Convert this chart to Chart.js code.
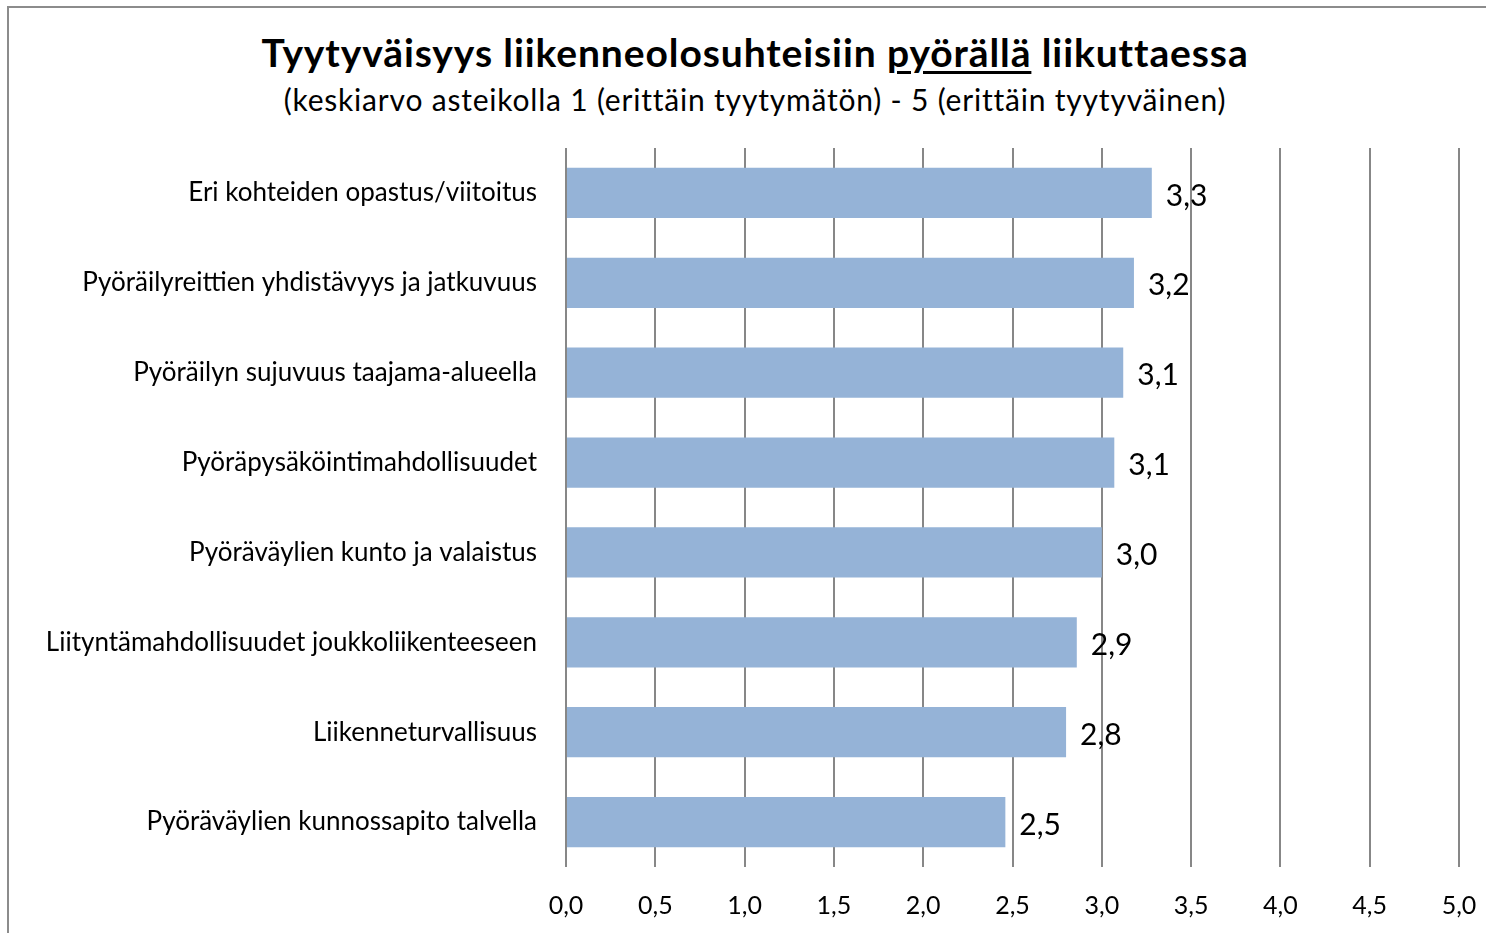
<!DOCTYPE html>
<html>
<head>
<meta charset="utf-8">
<script src="https://cdn.jsdelivr.net/npm/chart.js@4"></script>
<style>
  html, body { margin: 0; padding: 0; background: #fff; }
  #wrap { position: relative; width: 1486px; height: 933px; overflow: hidden; font-family: Lato, "Open Sans", sans-serif; }
  #frame { position: absolute; left: 7px; top: 6px; width: 1600px; height: 1200px; border-left: 2px solid #8c8c8c; border-top: 2px solid #8c8c8c; box-sizing: border-box; }
  #title { position: absolute; left: 0; width: 1510px; top: 30px; text-align: center; font-weight: bold; font-size: 39px; letter-spacing: 0.9px; color: #000; line-height: 44px; white-space: nowrap; }
  #subtitle { position: absolute; left: 0; width: 1510px; top: 82px; text-align: center; font-size: 30px; letter-spacing: 0.8px; color: #000; line-height: 34px; white-space: nowrap; }
  #title u { text-decoration-thickness: 3px; text-underline-offset: 4px; }
  canvas { position: absolute; left: 0; top: 0; }
</style>
</head>
<body>
<div id="wrap">
  <div id="frame"></div>
  <div id="title">Tyytyväisyys liikenneolosuhteisiin <u>pyörällä</u> liikuttaessa</div>
  <div id="subtitle">(keskiarvo asteikolla 1 (erittäin tyytymätön) - 5 (erittäin tyytyväinen)</div>
  <canvas id="c" width="1486" height="933"></canvas>
</div>
<script>
const categories = [
  "Eri kohteiden opastus/viitoitus",
  "Pyöräilyreittien yhdistävyys ja jatkuvuus",
  "Pyöräilyn sujuvuus taajama-alueella",
  "Pyöräpysäköintimahdollisuudet",
  "Pyöräväylien kunto ja valaistus",
  "Liityntämahdollisuudet joukkoliikenteeseen",
  "Liikenneturvallisuus",
  "Pyöräväylien kunnossapito talvella"
];
const values = [3.28, 3.18, 3.12, 3.07, 3.0, 2.86, 2.8, 2.46];
const xTickMin = 0;
const xTickMax = 5;
const xTickStep = 0.5;

const fmt = v => Number(v).toFixed(1).replace('.', ',');

const valueLabels = {
  id: 'valueLabels',
  afterDatasetsDraw(chart) {
    const ctx = chart.ctx;
    const meta = chart.getDatasetMeta(0);
    ctx.save();
    ctx.font = '30px Lato, "Open Sans", sans-serif';
    ctx.fillStyle = '#000';
    ctx.textAlign = 'left';
    ctx.textBaseline = 'middle';
    meta.data.forEach((el, i) => {
      ctx.fillText(fmt(chart.data.datasets[0].data[i]), el.x + 14, el.y + 3);
    });
    ctx.restore();
  }
};

new Chart(document.getElementById('c'), {
  type: 'bar',
  data: {
    labels: categories,
    datasets: [{
      data: values,
      backgroundColor: '#95B3D7',
      borderWidth: 0,
      barPercentage: 0.56,
      categoryPercentage: 1.0
    }]
  },
  options: {
    indexAxis: 'y',
    responsive: false,
    animation: false,
    devicePixelRatio: 1,
    layout: { padding: { top: 148, right: 27, bottom: 0, left: 0 } },
    plugins: { legend: { display: false }, tooltip: { enabled: false } },
    scales: {
      x: {
        min: xTickMin, max: xTickMax,
        afterFit(s) { s.height = 66; s.paddingRight = 0; s.paddingLeft = 0; },
        border: { display: false },
        grid: { color: '#878787', lineWidth: 2, drawTicks: false },
        ticks: {
          stepSize: xTickStep,
          padding: 24,
          color: '#000',
          font: { family: 'Lato, "Open Sans", sans-serif', size: 25 },
          callback: v => fmt(v)
        }
      },
      y: {
        afterFit(s) { s.width = 566; s.paddingTop = 0; s.paddingBottom = 0; },
        border: { display: false },
        grid: { display: false },
        ticks: {
          padding: 21,
          color: '#000',
          font: { family: 'Lato, "Open Sans", sans-serif', size: 26 }
        }
      }
    }
  },
  plugins: [valueLabels]
});
</script>
</body>
</html>
